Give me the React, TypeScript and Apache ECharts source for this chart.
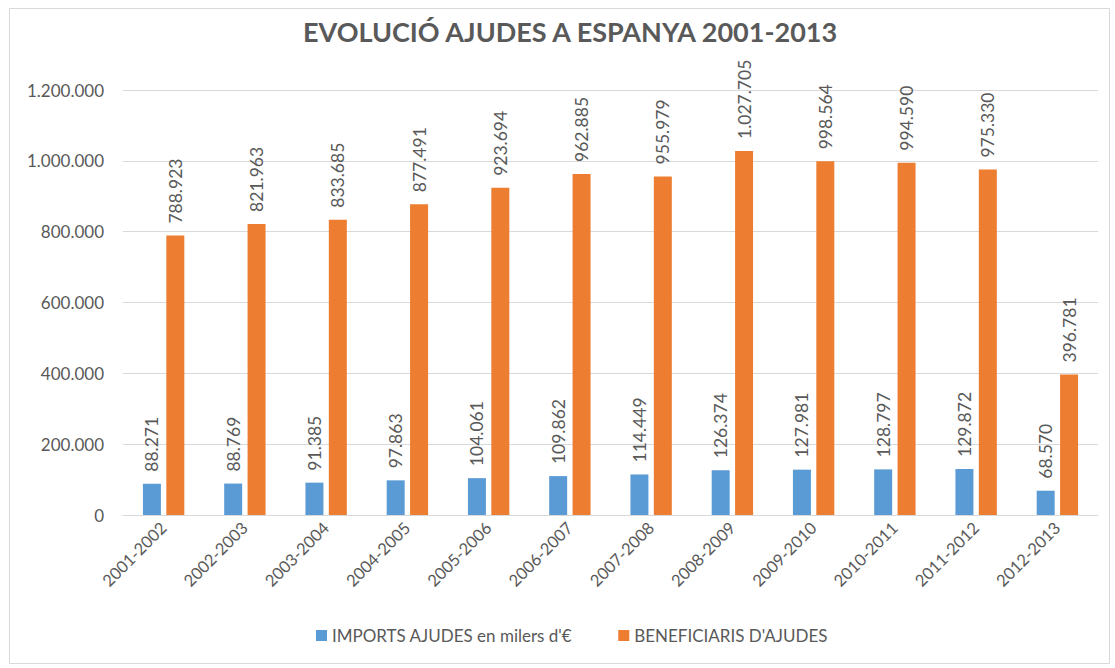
import React, { useEffect, useRef } from "react";
import * as echarts from "echarts";

const categories = [
  "2001-2002", "2002-2003", "2003-2004", "2004-2005", "2005-2006", "2006-2007",
  "2007-2008", "2008-2009", "2009-2010", "2010-2011", "2011-2012", "2012-2013",
];
const imports = [88271, 88769, 91385, 97863, 104061, 109862, 114449, 126374, 127981, 128797, 129872, 68570];
const beneficiaris = [788923, 821963, 833685, 877491, 923694, 962885, 955979, 1027705, 998564, 994590, 975330, 396781];
const seriesNames = ["IMPORTS AJUDES en milers d'€", "BENEFICIARIS D'AJUDES"];
const titleText = "EVOLUCIÓ AJUDES A ESPANYA 2001-2013";

const FONT = "Lato, 'Open Sans', sans-serif";
const TXT = "#595959";

function fmt(v: number): string {
  return String(Math.round(v)).replace(/\B(?=(\d{3})+(?!\d))/g, ".");
}

export default function App() {
  const ref = useRef<HTMLDivElement>(null);
  useEffect(() => {
    if (!ref.current) return;
    const chart = echarts.init(ref.current, undefined, { renderer: "svg" });
    const label = {
      show: true,
      position: "top" as const,
      rotate: 90,
      align: "left" as const,
      verticalAlign: "middle" as const,
      distance: 12,
      color: TXT,
      fontFamily: FONT,
      fontSize: 17.5,
      formatter: (p: any) => fmt(p.value),
    };
    chart.setOption({
      animation: false,
      backgroundColor: "#ffffff",
      textStyle: { fontFamily: FONT },
      graphic: [
        {
          type: "rect",
          shape: { x: 9.5, y: 8.5, width: 1100, height: 655 },
          style: { fill: "none", stroke: "#d9d9d9", lineWidth: 1 },
          silent: true,
        },
      ],
      title: {
        text: titleText,
        left: 298,
        top: 13,
        textStyle: { fontFamily: FONT, fontSize: 27, fontWeight: "bold", color: TXT },
      },
      legend: {
        bottom: 19,
        left: 311,
        itemWidth: 11,
        itemHeight: 11,
        itemGap: 46,
        icon: "rect",
        textStyle: { fontFamily: FONT, fontSize: 17, color: TXT },
        data: seriesNames,
      },
      grid: { left: 123, right: 17, top: 90, bottom: 153 },
      xAxis: {
        type: "category",
        data: categories,
        axisLine: { lineStyle: { color: "#d9d9d9" } },
        axisTick: { show: false },
        axisLabel: { rotate: 45, color: TXT, fontFamily: FONT, fontSize: 16.5, margin: 10 },
      },
      yAxis: {
        type: "value",
        min: 0,
        max: 1200000,
        interval: 200000,
        axisLine: { show: false },
        axisTick: { show: false },
        splitLine: { lineStyle: { color: "#d9d9d9" } },
        axisLabel: { color: TXT, fontFamily: FONT, fontSize: 17, margin: 19, formatter: (v: number) => fmt(v) },
      },
      series: [
        {
          name: seriesNames[0],
          type: "bar",
          data: imports,
          barWidth: 18,
          barGap: "30%",
          itemStyle: { color: "#5b9bd5" },
          label,
        },
        {
          name: seriesNames[1],
          type: "bar",
          data: beneficiaris,
          barWidth: 18,
          barGap: "30%",
          itemStyle: { color: "#ed7d31" },
          label,
        },
      ],
    });
    return () => chart.dispose();
  }, []);
  return (
    <div
      ref={ref}
      style={{ position: "absolute", left: 0, top: 0, width: 1115, height: 668 }}
    />
  );
}
